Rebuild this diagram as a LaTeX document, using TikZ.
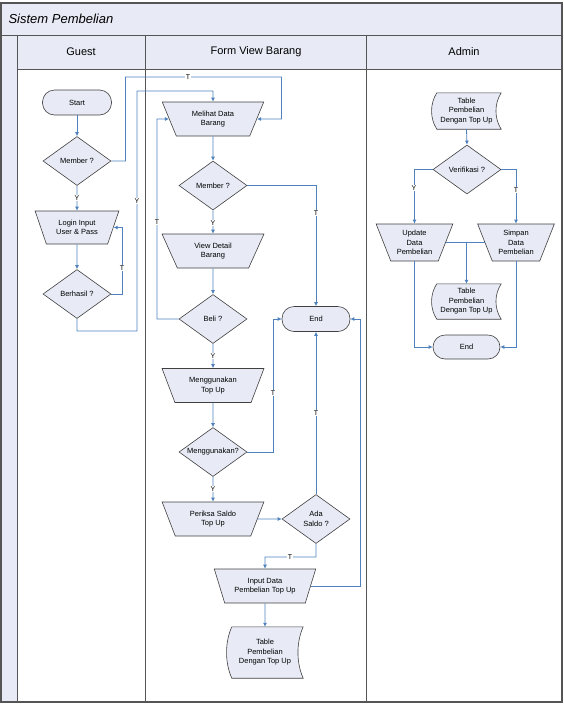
\documentclass[tikz,border=0pt]{standalone}
\usepackage{fontspec}
\setmainfont{Liberation Sans}
\usetikzlibrary{shapes.geometric,arrows.meta,calc,backgrounds}
\definecolor{lanefill}{RGB}{232,235,246}
\definecolor{boxfill}{RGB}{232,235,246}
\definecolor{flowblue}{RGB}{79,129,189}
\definecolor{framegray}{RGB}{85,85,85}
\definecolor{edgegray}{RGB}{64,64,64}

\begin{document}
\begin{tikzpicture}[x=1pt,y=-1pt,
  every node/.style={font=\fontsize{7.5}{9.5}\selectfont, align=center},
  boxbase/.style={draw=edgegray, fill=boxfill, line width=0.6pt, inner sep=0pt},
  terminal/.style={boxbase, rectangle, rounded corners=12pt, minimum width=68pt, minimum height=25pt},
  decision/.style={boxbase, diamond, aspect=1.39, minimum width=68pt, minimum height=49pt},
  manual/.style={boxbase, trapezium, shape border rotate=180,
    trapezium left angle=64, trapezium right angle=64, trapezium stretches=true,
    minimum width=102pt, minimum height=34pt},
  store/.style={inner sep=0pt},
  storebox/.style={draw=edgegray, fill=boxfill, line width=0.6pt},
  flow/.style={draw=flowblue, line width=0.8pt, -{Latex[length=4pt,width=4pt]}},
  link/.style={draw=flowblue, line width=0.8pt},
  cond/.style={fill=white, inner sep=0.8pt, font=\fontsize{7}{8}\selectfont},
  lanetitle/.style={font=\fontsize{11}{13}\selectfont},
  frameline/.style={draw=framegray, line width=1pt}
]
\useasboundingbox (0,0) rectangle (564,705);

% swimlane frame
\fill[lanefill] (1,3) rectangle (562,69);
\fill[lanefill] (1,69) rectangle (17,702);
\draw[frameline] (1,35) -- (562,35);
\draw[frameline] (17,69) -- (562,69);
\draw[frameline] (17,35) -- (17,702);
\draw[frameline] (145.5,35) -- (145.5,702);
\draw[frameline] (366,35) -- (366,702);
\draw[framegray, line width=1.6pt] (1,3) rectangle (562,702);

\node[anchor=west, font=\itshape\fontsize{13}{15}\selectfont] (title) at (5,19) {Sistem Pembelian};
\node[lanetitle] (hguest) at (81,52) {Guest};
\node[lanetitle] (hform) at (256,52) {Form View Barang};
\node[lanetitle] (hadmin) at (464,52) {Admin};

% Guest lane
\node[terminal, minimum width=69pt] (start) at (77,102.5) {Start};
\node[decision] (gmem) at (77,161) {Member ?};
\node[manual, minimum width=84pt, minimum height=33pt, trapezium left angle=63, trapezium right angle=63] (login) at (77,227.5) {Login Input\\User \& Pass};
\node[decision] (berhasil) at (77,294) {Berhasil ?};

% Form View Barang lane
\node[manual] (melihat) at (213,119) {Melihat Data\\Barang};
\node[decision] (fmem) at (213,185.5) {Member ?};
\node[manual] (detail) at (213,251) {View Detail\\Barang};
\node[decision] (beli) at (213,319) {Beli ?};
\node[terminal] (end1) at (316,319) {End};
\node[manual] (topup) at (213,385.5) {Menggunakan\\Top Up};
\node[decision] (pakai) at (213,452) {Menggunakan?};
\node[manual] (periksa) at (213,519) {Periksa Saldo\\Top Up};
\node[decision] (saldo) at (316,519) {Ada\\Saldo ?};
\node[manual] (input) at (265,586) {Input Data\\Pembelian Top Up};
\node[store, minimum width=76pt, minimum height=51pt] (tbl1) at (265,652.5) {Table\\Pembelian\\Dengan Top Up};

% Admin lane
\node[store, minimum width=69pt, minimum height=36pt] (tbl2) at (466.5,111) {Table\\Pembelian\\Dengan Top Up};
\node[decision] (verif) at (467,169.5) {Verifikasi ?};
\node[manual, minimum width=77pt, minimum height=37pt, trapezium left angle=66, trapezium right angle=66] (update) at (414.5,242.5) {Update\\Data\\Pembelian};
\node[manual, minimum width=77pt, minimum height=37pt, trapezium left angle=66, trapezium right angle=66] (simpan) at (516,242.5) {Simpan\\Data\\Pembelian};
\node[store, minimum width=69pt, minimum height=35pt] (tbl3) at (466.5,301.5) {Table\\Pembelian\\Dengan Top Up};
\node[terminal, minimum width=67pt, minimum height=24pt] (end2) at (466.5,347) {End};

% stored-data outlines behind the table labels
\begin{scope}[on background layer]
\foreach \n in {tbl1,tbl2,tbl3} {
  \path[storebox] ($(\n.north west)+(5,0)$) -- (\n.north east)
    .. controls ($(\n.north east)!0.3!(\n.south east)+(-7,0)$) and ($(\n.north east)!0.7!(\n.south east)+(-7,0)$) .. (\n.south east)
    -- ($(\n.south west)+(5,0)$)
    .. controls ($(\n.north west)!0.7!(\n.south west)+(-2,0)$) and ($(\n.north west)!0.3!(\n.south west)+(-2,0)$) .. cycle;
}
\end{scope}

% Guest connectors
\draw[flow] (start.south) -- (gmem.north);
\draw[flow] (gmem.south) -- (login.north);
\draw[flow] (login.south) -- (berhasil.north);
\draw[flow] (berhasil.east) -- (122,294) |- (login.east);
\draw[flow] (gmem.east) -| (125.5,77) -| (281.5,119) -- (melihat.east);
\draw[flow] (berhasil.south) |- (137,331) |- (213,91) -- (melihat.north);

% Form View Barang connectors
\draw[flow] (melihat.south) -- (fmem.north);
\draw[flow] (fmem.south) -- (detail.north);
\draw[flow] (fmem.east) -| (end1.north);
\draw[flow] (detail.south) -- (beli.north);
\draw[flow] (beli.west) -| (157,119) -- (melihat.west);
\draw[flow] (beli.south) -- (topup.north);
\draw[flow] (topup.south) -- (pakai.north);
\draw[flow] (pakai.east) -| (273,319) -- (end1.west);
\draw[flow] (pakai.south) -- (periksa.north);
\draw[flow] (periksa.east) -- (saldo.west);
\draw[flow] (saldo.north) -- (end1.south);
\draw[flow] (saldo.south) |- (265,557) -- (input.north);
\draw[flow] (input.east) -| (360,319) -- (end1.east);
\draw[flow] (input.south) -- (tbl1.north);

% Admin connectors
\draw[flow] (tbl2.south) -- (verif.north);
\draw[flow] (verif.west) -| (update.north);
\draw[flow] (verif.east) -| (simpan.north);
\draw[link] (update.east) -- (simpan.west);
\draw[flow] (tbl3.north |- update.east) -- (tbl3.north);
\draw[flow] (update.south) |- (end2.west);
\draw[flow] (simpan.south) |- (end2.east);

% branch labels
\node[cond] (c1) at (77,198) {Y};
\node[cond] (c2) at (122,268) {T};
\node[cond] (c3) at (188,77) {T};
\node[cond] (c4) at (137,201) {Y};
\node[cond] (c5) at (213,223) {Y};
\node[cond] (c6) at (316,213) {T};
\node[cond] (c7) at (157,222) {T};
\node[cond] (c8) at (213,356) {Y};
\node[cond] (c9) at (273,393) {T};
\node[cond] (c10) at (213,489) {Y};
\node[cond] (c11) at (316,413) {T};
\node[cond] (c12) at (290,557) {T};
\node[cond] (c13) at (414,188) {Y};
\node[cond] (c14) at (516,190) {T};
\end{tikzpicture}
\end{document}
